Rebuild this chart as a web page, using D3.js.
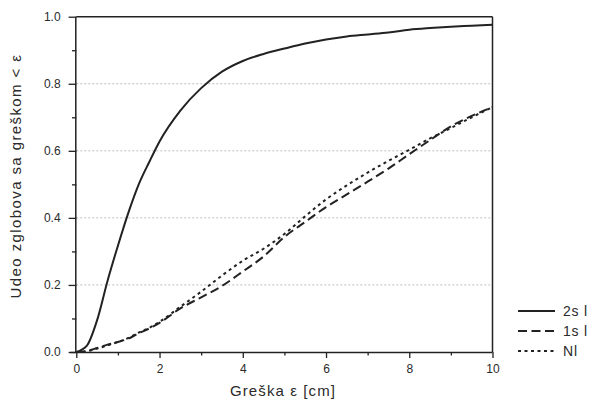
<!DOCTYPE html>
<meta charset="utf-8">
<style>
body { margin: 0; background: #fff; }
text { font-family: "Liberation Sans", Arial, sans-serif; fill: #2a2a2a; }
.grid line { stroke: #bdbdbd; stroke-dasharray: 2,2; stroke-width: 1; }
.axis .domain { stroke: #222; stroke-width: 1.5; }
.axis line { stroke: #222; stroke-width: 1.3; }
.axis text { font-size: 12px; }
</style>
<body>
<script src="https://d3js.org/d3.v7.min.js"></script>
<script>

// error in cm
var errX = [0, 0.25, 0.5, 0.75, 1, 1.25, 1.5, 1.75, 2, 2.5, 3, 3.5, 4, 4.5,
            5, 5.5, 6, 6.5, 7, 7.5, 8, 8.5, 9, 9.5, 10];

// fraction of joints with error < eps
var val2sl = [0, 0.018, 0.095, 0.212, 0.317, 0.415, 0.5, 0.566, 0.628, 0.72, 0.787, 0.836, 0.868, 0.889,
              0.905, 0.92, 0.932, 0.941, 0.947, 0.953, 0.961, 0.966, 0.97, 0.973, 0.976];
var val1sl = [0, 0.003, 0.012, 0.022, 0.03, 0.04, 0.056, 0.07, 0.087, 0.13, 0.163, 0.197, 0.24, 0.285,
              0.343, 0.388, 0.432, 0.47, 0.508, 0.547, 0.59, 0.632, 0.673, 0.704, 0.73];
var valNl  = [0, 0.002, 0.01, 0.02, 0.03, 0.042, 0.058, 0.072, 0.09, 0.135, 0.18, 0.228, 0.272, 0.308,
              0.352, 0.405, 0.455, 0.497, 0.535, 0.57, 0.603, 0.637, 0.668, 0.7, 0.73];

var seriesNames = ["2s l", "1s l", "Nl"];
var xTicks = [0, 2, 4, 6, 8, 10];
var yTicks = [0, 0.2, 0.4, 0.6, 0.8, 1.0];

var dashes = ["none", "9,4.5", "3,3.5"];

var margin = {top: 16.7, right: 100.5, bottom: 48, left: 76.3},
    width = 593 - margin.left - margin.right,
    height = 400 - margin.top - margin.bottom;

var svg = d3.select("body").append("svg")
    .attr("width", 593)
    .attr("height", 400);

var g = svg.append("g")
    .attr("transform", "translate(" + margin.left + "," + margin.top + ")");

var x = d3.scaleLinear().domain([0, 10]).range([0, width]);
var y = d3.scaleLinear().domain([0, 1]).range([height, 0]);

// dotted grid
g.append("g").attr("class", "grid")
  .selectAll("line")
  .data(yTicks.slice(1, -1))
  .enter().append("line")
    .attr("x1", 0).attr("x2", width)
    .attr("y1", function(d) { return y(d); })
    .attr("y2", function(d) { return y(d); });

// frame top / right
g.append("line").attr("x1", 0).attr("x2", width).attr("y1", 0).attr("y2", 0)
    .attr("stroke", "#222").attr("stroke-width", 1.5);
g.append("line").attr("x1", width).attr("x2", width).attr("y1", 0).attr("y2", height)
    .attr("stroke", "#222").attr("stroke-width", 1.5);

// minor ticks
g.append("g").attr("class", "axis")
    .attr("transform", "translate(0," + height + ")")
    .call(d3.axisBottom(x).tickValues([1, 3, 5, 7, 9]).tickSize(3.5).tickFormat(""))
    .select(".domain").remove();
g.append("g").attr("class", "axis")
    .call(d3.axisLeft(y).tickValues([0.1, 0.3, 0.5, 0.7, 0.9]).tickSize(4.3).tickFormat(""))
    .select(".domain").remove();

// major axes
g.append("g").attr("class", "axis")
    .attr("transform", "translate(0," + height + ")")
    .call(d3.axisBottom(x).tickValues(xTicks).tickSize(6).tickPadding(6)
      .tickFormat(d3.format("d")))
    .call(function(a) { a.select(".domain").attr("d", "M-6,0.5H" + width); });

g.append("g").attr("class", "axis")
    .call(d3.axisLeft(y).tickValues(yTicks).tickSize(7.7).tickPadding(8)
      .tickFormat(d3.format(".1f")))
    .call(function(a) { a.select(".domain").attr("d", "M-0.5," + height + "V0"); });

// curves
var allVals = [val2sl, val1sl, valNl];
var line = d3.line()
    .x(function(d) { return x(d[0]); })
    .y(function(d) { return y(d[1]); })
    .curve(d3.curveMonotoneX);

g.selectAll(".curve")
  .data(allVals)
  .enter().append("path")
    .attr("class", "curve")
    .attr("fill", "none")
    .attr("stroke", "#222")
    .attr("stroke-width", 2)
    .attr("stroke-dasharray", function(d, i) { return dashes[i]; })
    .attr("d", function(vals) { return line(errX.map(function(e, j) { return [e, vals[j]]; })); });

// axis titles
svg.append("text")
    .attr("x", 283).attr("y", 396)
    .attr("text-anchor", "middle")
    .style("font-size", "15px")
    .style("letter-spacing", "1.1px")
    .text("Greška ε [cm]");

svg.append("text")
    .attr("transform", "translate(21,176) rotate(-90)")
    .attr("text-anchor", "middle")
    .style("font-size", "15px")
    .style("letter-spacing", "1.4px")
    .text("Udeo zglobova sa greškom < ε");

// legend
var legend = svg.append("g").selectAll("g")
  .data(seriesNames)
  .enter().append("g")
    .attr("transform", function(d, i) { return "translate(518," + (311 + i * 20) + ")"; });

legend.append("line")
    .attr("x1", 0).attr("x2", 37)
    .attr("stroke", "#222").attr("stroke-width", 2)
    .attr("stroke-dasharray", function(d, i) { return dashes[i]; });

legend.append("text")
    .attr("x", 45).attr("y", 5)
    .style("font-size", "14px")
    .style("letter-spacing", "0.8px")
    .text(function(d) { return d; });

</script>
